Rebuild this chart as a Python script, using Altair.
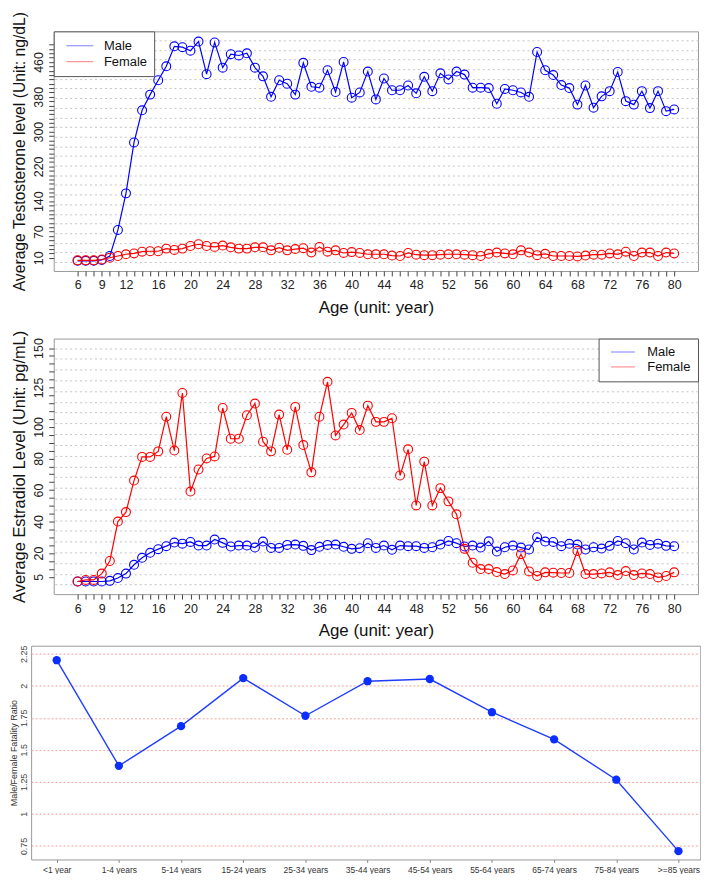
import altair as alt
import pandas as pd

# ---------------- data ----------------
ages = list(range(6, 81))

male_testosterone = [3, 3, 3, 5, 14, 74, 158, 275, 349, 385,
                     418, 450, 496, 494, 486, 507, 432, 505, 447, 478,
                     475, 480, 447, 427, 380, 418, 410, 385, 458, 403,
                     401, 441, 391, 460, 378, 390, 438, 374, 422, 395,
                     395, 406, 388, 426, 393, 434, 420, 438, 431, 401,
                     401, 400, 364, 398, 395, 390, 380, 483, 441, 430,
                     407, 400, 362, 406, 355, 381, 393, 437, 370, 362,
                     393, 354, 393, 347, 351]
female_testosterone = [4, 4, 4, 6, 10, 14, 18, 20, 24, 25,
                       25, 31, 28, 31, 37, 41, 37, 35, 38, 34,
                       31, 31, 34, 34, 27, 33, 27, 30, 32, 22,
                       35, 24, 27, 21, 23, 21, 18, 18, 18, 15,
                       14, 21, 17, 16, 16, 17, 18, 18, 17, 16,
                       14, 19, 22, 20, 18, 27, 22, 16, 19, 14,
                       14, 14, 13, 15, 17, 17, 20, 18, 24, 14,
                       22, 22, 14, 22, 20]

male_estradiol = [2, 2, 2, 2, 2.4, 4.2, 7, 12.6, 17, 20.2,
                  22.5, 24.4, 26.7, 26, 27.1, 24.8, 24.8, 28.6, 26.5, 24.2,
                  24.8, 24.8, 23.5, 27.3, 23.3, 23.3, 25.2, 25.4, 24.6, 21.9,
                  24, 25.2, 25.4, 24, 22.7, 23.1, 26.3, 23.3, 24.8, 22.1,
                  24.8, 24.4, 24.4, 23.3, 23.7, 25.4, 27.7, 26.3, 24.2, 24.8,
                  23.5, 27.5, 21, 23.7, 24.8, 23.5, 22.3, 30.1, 27.3, 27.1,
                  24.4, 25.9, 25.4, 22.3, 23.7, 22.9, 24.6, 27.7, 26.3, 22.3,
                  26.7, 25.2, 26, 24.6, 24.4]
female_estradiol = [2, 3, 3, 7, 15, 40, 46, 66, 81, 81,
                    84.5, 106.5, 85, 121.5, 59, 73, 80, 81.3, 112, 92.5,
                    92.5, 107.4, 114.8, 90.6, 84.5, 107.8, 85.5, 112.7, 88.5, 71.2,
                    106.5, 128.6, 94.6, 101.5, 108.9, 98, 113.5, 103.2, 103.2, 105.5,
                    69.2, 85.8, 50.2, 78, 50.2, 61.2, 52.8, 44.6, 22.7, 13.9,
                    9.9, 9.9, 8, 6.7, 9, 19.3, 8.4, 5.5, 7.8, 7.6,
                    7.4, 7.4, 21.4, 6.7, 6.7, 7.1, 7.8, 6.1, 8.6, 6.1,
                    7.1, 6.7, 4.6, 5.5, 7.8]

age_groups = ["<1 year", "1-4 years", "5-14 years", "15-24 years", "25-34 years",
              "35-44 years", "45-54 years", "55-64 years", "65-74 years",
              "75-84 years", ">=85 years"]
fatality_ratio = [2.20, 1.375, 1.685, 2.06, 1.766, 2.036, 2.053, 1.794, 1.582, 1.267, 0.709]

age_tick_labels = [6, 9, 12, 16, 20, 24, 28, 32, 36, 40, 44, 48, 52, 56, 60, 64, 68, 72, 76, 80]
testosterone_tick_labels = [10, 70, 140, 220, 300, 380, 460]
estradiol_tick_labels = [5, 20, 40, 60, 80, 100, 125, 150]
ratio_ticks = [0.75, 1, 1.25, 1.5, 1.75, 2, 2.25]
sexes = ["Male", "Female"]

# ---------------- styling ----------------
BLUE = "#0000ff"
RED = "#ff0000"
FONT = "Liberation Sans"
LEGEND_LINE = "M-2,0H2"
sex_scale = alt.Scale(domain=sexes, range=[BLUE, RED])
x_scale = alt.Scale(domain=[3.04, 82.96], nice=False, zero=False)

age_label_expr = "indexof(%s, datum.value) >= 0 ? datum.label : ''" % str(age_tick_labels)


def age_axis():
    return alt.Axis(values=ages, labelExpr=age_label_expr, labelOverlap=False,
                    labelFlush=False, tickSize=5, labelPadding=3, labelFontSize=12.5,
                    title="Age (unit: year)", titleFontSize=17, titlePadding=8,
                    grid=False, domain=False)


def long_frame(male, female):
    return pd.DataFrame({
        "Age": ages + ages,
        "Level": male + female,
        "Sex": ["Male"] * len(ages) + ["Female"] * len(ages),
    })


def hormone_panel(df, y_domain, tick_values, label_values, grid_values, title, title_size,
                  legend_orient, legend_size, sym_offset, label_offset, width, height):
    y_scale = alt.Scale(domain=y_domain, nice=False, zero=False)
    label_expr = "indexof(%s, datum.value) >= 0 ? datum.label : ''" % str(label_values)
    grid = alt.Chart(df).mark_line(opacity=0).encode(
        x=alt.X("Age:Q", scale=x_scale, axis=age_axis()),
        y=alt.Y("Level:Q", scale=y_scale,
                axis=alt.Axis(orient="right", values=grid_values, grid=True,
                              labels=False, ticks=False, domain=False, title=None,
                              gridColor="#c4c4c4", gridDash=[2, 3], gridWidth=1)),
        detail="Sex:N",
    )
    lines = alt.Chart(df).mark_line(strokeWidth=1.2).encode(
        x=alt.X("Age:Q", scale=x_scale, axis=age_axis()),
        y=alt.Y("Level:Q", scale=y_scale,
                axis=alt.Axis(orient="left", values=tick_values, labelExpr=label_expr,
                              labelOverlap=False, labelAngle=-90, labelAlign="center",
                              labelBaseline="bottom", labelFontSize=12.5, labelPadding=3,
                              tickSize=5, grid=False, domain=False, title=title,
                              titleFontSize=title_size, titlePadding=5)),
        color=alt.Color("Sex:N", scale=sex_scale,
                        legend=alt.Legend(title=None, orient=legend_orient, offset=0,
                                          symbolType=LEGEND_LINE, symbolSize=legend_size,
                                          symbolStrokeWidth=1, symbolOpacity=0.5,
                                          symbolOffset=sym_offset,
                                          labelFontSize=13, labelOffset=label_offset,
                                          padding=7, rowPadding=1,
                                          strokeColor="#555",
                                          fillColor="white", labelColor="#111")),
    )
    points = alt.Chart(df).mark_point(shape="circle", size=80, strokeWidth=1.1,
                                      filled=False, opacity=1).encode(
        x=alt.X("Age:Q", scale=x_scale, axis=age_axis()),
        y=alt.Y("Level:Q", scale=y_scale, axis=None),
        color=alt.Color("Sex:N", scale=sex_scale, legend=None),
    )
    return alt.layer(grid, lines, points).resolve_axis(y="independent").properties(
        width=width, height=height)


p1 = hormone_panel(long_frame(male_testosterone, female_testosterone),
                   [-20.4, 530.4], list(range(10, 510, 10)), testosterone_tick_labels,
                   [510 * i / 23 for i in range(24)],
                   "Average Testosterone level (Unit: ng/dL)", 15.8,
                   "top-left", 182, 11.75, 16.75, 648, 241)

p2 = hormone_panel(long_frame(male_estradiol, female_estradiol),
                   [-6, 156], list(range(5, 155, 5)), estradiol_tick_labels,
                   [150 * i / 22 for i in range(23)],
                   "Average Estradiol Level (Unit: pg/mL)", 16.5,
                   "top-right", 144, 11, 18, 648, 257)

ratio_label_expr = "'' + datum.value"
df_ratio = pd.DataFrame({"Group": age_groups, "Ratio": fatality_ratio})
r_x = alt.X("Group:N", sort=age_groups,
            scale=alt.Scale(type="point", padding=0.381, align=0.54),
            axis=alt.Axis(title=None, labelAngle=0, labelFontSize=8.5, tickSize=3,
                          labelPadding=3, domain=False, grid=False,
                          labelColor="#333", tickColor="#888"))
r_y_scale = alt.Scale(domain=[0.644, 2.313], nice=False, zero=False)
r_line = alt.Chart(df_ratio).mark_line(color="#1f3dff", strokeWidth=1.4).encode(
    x=r_x,
    y=alt.Y("Ratio:Q", scale=r_y_scale,
            axis=alt.Axis(orient="left", values=ratio_ticks, labelExpr=ratio_label_expr,
                          labelAngle=-90, labelAlign="center", labelBaseline="bottom",
                          labelFontSize=9, ticks=False, labelPadding=3, domain=False,
                          grid=True, gridColor="#f4a29a", gridDash=[2, 2], gridWidth=1,
                          labelColor="#444",
                          title="Male/Female Fatality Ratio", titleFontSize=9,
                          titlePadding=1, titleColor="#333")),
)
# right-hand axis is only a blank spacer (white, outside the drawn page) used for centring
r_pts = alt.Chart(df_ratio).mark_circle(color="#0a2eff", size=70, opacity=1).encode(
    x=r_x,
    y=alt.Y("Ratio:Q", scale=r_y_scale,
            axis=alt.Axis(orient="right", offset=21, labels=False, ticks=False,
                          grid=False, title=None, domain=True, domainColor="white")),
)
p3 = alt.layer(r_line, r_pts).resolve_axis(y="independent").properties(width=673, height=215)

top_block = alt.vconcat(p1, p2, spacing=14.0)

chart = alt.vconcat(top_block, p3, spacing=4.9, center=True).properties(
    padding={"left": 0, "top": 0, "right": -21, "bottom": -3},
).resolve_scale(color="independent").resolve_legend(color="independent").configure(
    font=FONT
).configure_view(
    stroke="#999999", strokeWidth=1
).configure_axis(
    labelColor="#222", tickColor="#444", titleColor="#111", titleFontWeight="normal",
    labelFont=FONT, titleFont=FONT
).configure_legend(labelFont=FONT)

chart.save("out.html", embed_options={"renderer": "svg", "actions": False})
